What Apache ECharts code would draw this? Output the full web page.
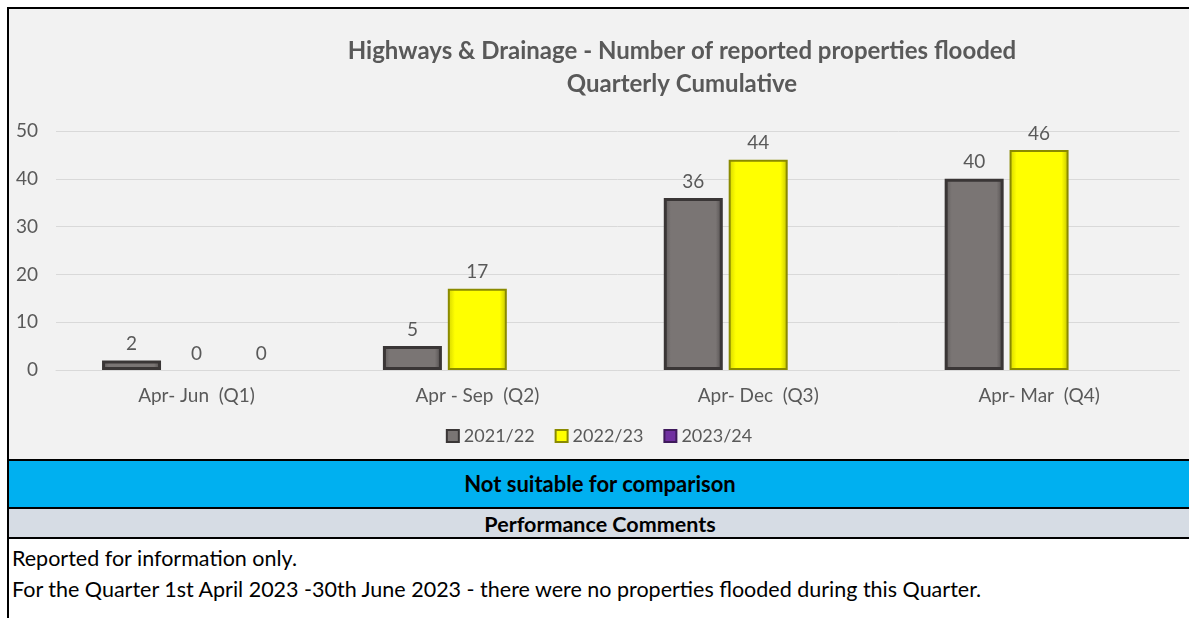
<!DOCTYPE html>
<html>
<head>
<meta charset="utf-8">
<script src="https://cdn.jsdelivr.net/npm/echarts@6/dist/echarts.min.js"></script>
<style>
  body { margin: 0; background: #fff; font-family: Lato, 'Liberation Sans', sans-serif; }
  .frame { position: absolute; left: 7px; top: 7px; width: 1182px; height: 611px; border-left: 2px solid #000; }
  #chart { position: absolute; left: 0; top: 0; width: 1180px; height: 450px; background: #f2f2f2; border-top: 2px solid #000; }
  .band-blue { position: absolute; left: 0; top: 452px; width: 1182px; height: 46px; background: #00b0f0;
    border-top: 2px solid #000; border-bottom: 2px solid #000; text-align: center; line-height: 46px;
    font-weight: bold; font-size: 22px; color: #000; }
  .band-grey { position: absolute; left: 0; top: 502px; width: 1182px; height: 28px; background: #d6dce4;
    border-bottom: 2px solid #000; text-align: center; line-height: 30px; font-weight: bold; font-size: 21.5px; color: #000; }
  .comments { position: absolute; left: 3px; top: 536px; font-size: 21.5px; color: #000; line-height: 31px; }
</style>
</head>
<body>
<div class="frame">
  <div id="chart"></div>
  <div class="band-blue">Not suitable for comparison</div>
  <div class="band-grey">Performance Comments</div>
  <div class="comments">
    <div>Reported for information only.</div>
    <div>For the Quarter 1st April 2023 -30th June 2023 - there were no properties flooded during this Quarter.</div>
  </div>
</div>
<script>
// chart data
var quarters = ['Apr- Jun  (Q1)', 'Apr - Sep  (Q2)', 'Apr- Dec  (Q3)', 'Apr- Mar  (Q4)']
var years = ['2021/22', '2022/23', '2023/24']
var flooded2122 = [2, 5, 36, 40]
var flooded2223 = [0, 17, 44, 46]
var flooded2324 = [0, null, null, null]
var yTicks = [0, 10, 20, 30, 40, 50]

var font = 'Lato, "Liberation Sans", sans-serif'
var txt = '#595959'

function barSeries(name, data, face, rim, rimWidth) {
  return {
    name: name,
    type: 'bar',
    // zero bars show only their label, no outline
    data: data.map(function(v) {
      return v === 0 ? { value: v, itemStyle: { borderWidth: 0 } } : v
    }),
    barWidth: 59,
    barGap: '10%',
    itemStyle: {
      color: face,
      borderColor: rim,
      borderWidth: rimWidth
    },
    label: {
      show: true,
      position: 'top',
      distance: 7,
      color: txt,
      fontSize: 19,
      fontFamily: font
    }
  }
}

var myChart = echarts.init(document.getElementById('chart'))
var option = {
  animation: false,
  title: {
    text: 'Highways & Drainage - Number of reported properties flooded\nQuarterly Cumulative',
    left: 668,
    top: 21,
    textAlign: 'center',
    textStyle: {
      color: txt,
      fontSize: 24,
      fontWeight: 'bold',
      fontFamily: font,
      lineHeight: 33
    }
  },
  legend: {
    data: years,
    left: 'center',
    top: 413,
    itemWidth: 12,
    itemHeight: 12,
    itemGap: 20,
    icon: 'rect',
    textStyle: { color: txt, fontSize: 18, fontFamily: font }
  },
  grid: {
    left: 47,
    right: 9.5,
    top: 122,
    bottom: 89
  },
  xAxis: {
    type: 'category',
    data: quarters,
    axisLine: { lineStyle: { color: '#d9d9d9' } },
    axisTick: { show: false },
    axisLabel: { color: txt, fontSize: 19, fontFamily: font, margin: 16 }
  },
  yAxis: {
    type: 'value',
    min: yTicks[0],
    max: yTicks[yTicks.length - 1],
    interval: 10,
    axisLine: { show: false },
    axisTick: { show: false },
    splitLine: { lineStyle: { color: '#d9d9d9' } },
    axisLabel: { color: txt, fontSize: 19, fontFamily: font, margin: 18 }
  },
  series: [
    barSeries(years[0], flooded2122, new echarts.graphic.LinearGradient(0, 0, 1, 0, [
      { offset: 0, color: '#5e5a5a' },
      { offset: 0.12, color: '#7a7574' },
      { offset: 0.88, color: '#7a7574' },
      { offset: 1, color: '#4f4b4b' }
    ]), '#3a3636', 3),
    barSeries(years[1], flooded2223, new echarts.graphic.LinearGradient(0, 0, 1, 0, [
      { offset: 0, color: '#d4d400' },
      { offset: 0.12, color: '#ffff00' },
      { offset: 0.88, color: '#ffff00' },
      { offset: 1, color: '#c4c400' }
    ]), '#8a8a00', 2),
    barSeries(years[2], flooded2324, '#7030a0', '#3f1a5c', 2)
  ]
}
myChart.setOption(option)
</script>
</body>
</html>
